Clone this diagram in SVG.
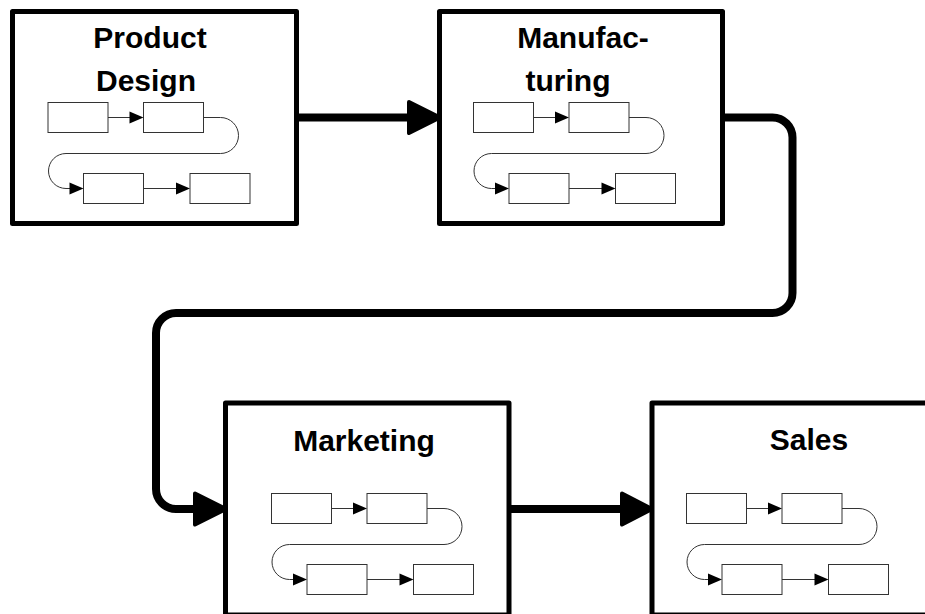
<svg xmlns="http://www.w3.org/2000/svg" xmlns:xlink="http://www.w3.org/1999/xlink" width="925" height="614" viewBox="0 0 925 614">
<style>
.box{fill:#fff;stroke:#000;stroke-width:5;stroke-linejoin:round}
.lbl{font-family:"Liberation Sans",Arial,sans-serif;font-weight:bold;font-size:30px;fill:#000;text-anchor:middle}
.mr{fill:#fff;stroke:#333;stroke-width:1}
.ml{fill:none;stroke:#333;stroke-width:1}
.mh{fill:#000;stroke:none}
.big{fill:none;stroke:#000;stroke-width:8;stroke-linecap:round;stroke-linejoin:round}
.head{fill:#000;stroke:#000;stroke-width:4;stroke-linejoin:round}
</style>
<defs>
<g id="flow">
<rect class="mr" x="0" y="0" width="60" height="30"/>
<rect class="mr" x="95.5" y="0" width="60" height="30"/>
<rect class="mr" x="35.5" y="71" width="60" height="30"/>
<rect class="mr" x="142" y="71" width="60" height="30"/>
<path class="ml" d="M60,15 H84"/>
<polygon class="mh" points="81.5,9 95.5,15 81.5,21"/>
<path class="ml" d="M155.5,15 H172.5 A18,18 0 0 1 172.5,51 H18 A17.5,17.5 0 0 0 18,86 H24"/>
<polygon class="mh" points="21.5,80 35.5,86 21.5,92"/>
<path class="ml" d="M95.5,86 H130"/>
<polygon class="mh" points="128,80 142,86 128,92"/>
</g>
</defs>
<g id="connectors">
<path class="big" d="M296,117.5 H410"/>
<polygon class="head" points="409,102 440,117.5 409,133"/>
<path class="big" d="M722.5,117.5 H772.5 A20,20 0 0 1 792.5,137.5 V293 A20,20 0 0 1 772.5,313 H176 A20,20 0 0 0 156,333 V489 A20,20 0 0 0 176,509 H198"/>
<polygon class="head" points="195,493.5 226,509 195,524.5"/>
<path class="big" d="M509,509 H624"/>
<polygon class="head" points="622,493.5 652,509 622,524.5"/>
</g>
<g id="product-design">
<rect class="box" x="12.5" y="11.5" width="284" height="212"/>
<text class="lbl" x="150" y="48">Product</text>
<text class="lbl" x="146" y="91">Design</text>
<use xlink:href="#flow" href="#flow" transform="translate(48,102.5)"/>
</g>
<g id="manufacturing">
<rect class="box" x="439.5" y="11.5" width="283" height="212"/>
<text class="lbl" x="583" y="48">Manufac-</text>
<text class="lbl" x="568" y="91">turing</text>
<use xlink:href="#flow" href="#flow" transform="translate(473.5,102.5)"/>
</g>
<g id="marketing">
<rect class="box" x="225.5" y="403" width="283.5" height="212"/>
<text class="lbl" x="364" y="451">Marketing</text>
<use xlink:href="#flow" href="#flow" transform="translate(271.5,493.5)"/>
</g>
<g id="sales">
<rect class="box" x="652" y="403" width="283" height="212"/>
<text class="lbl" x="809" y="450">Sales</text>
<use xlink:href="#flow" href="#flow" transform="translate(686.5,493.5)"/>
</g>
</svg>
